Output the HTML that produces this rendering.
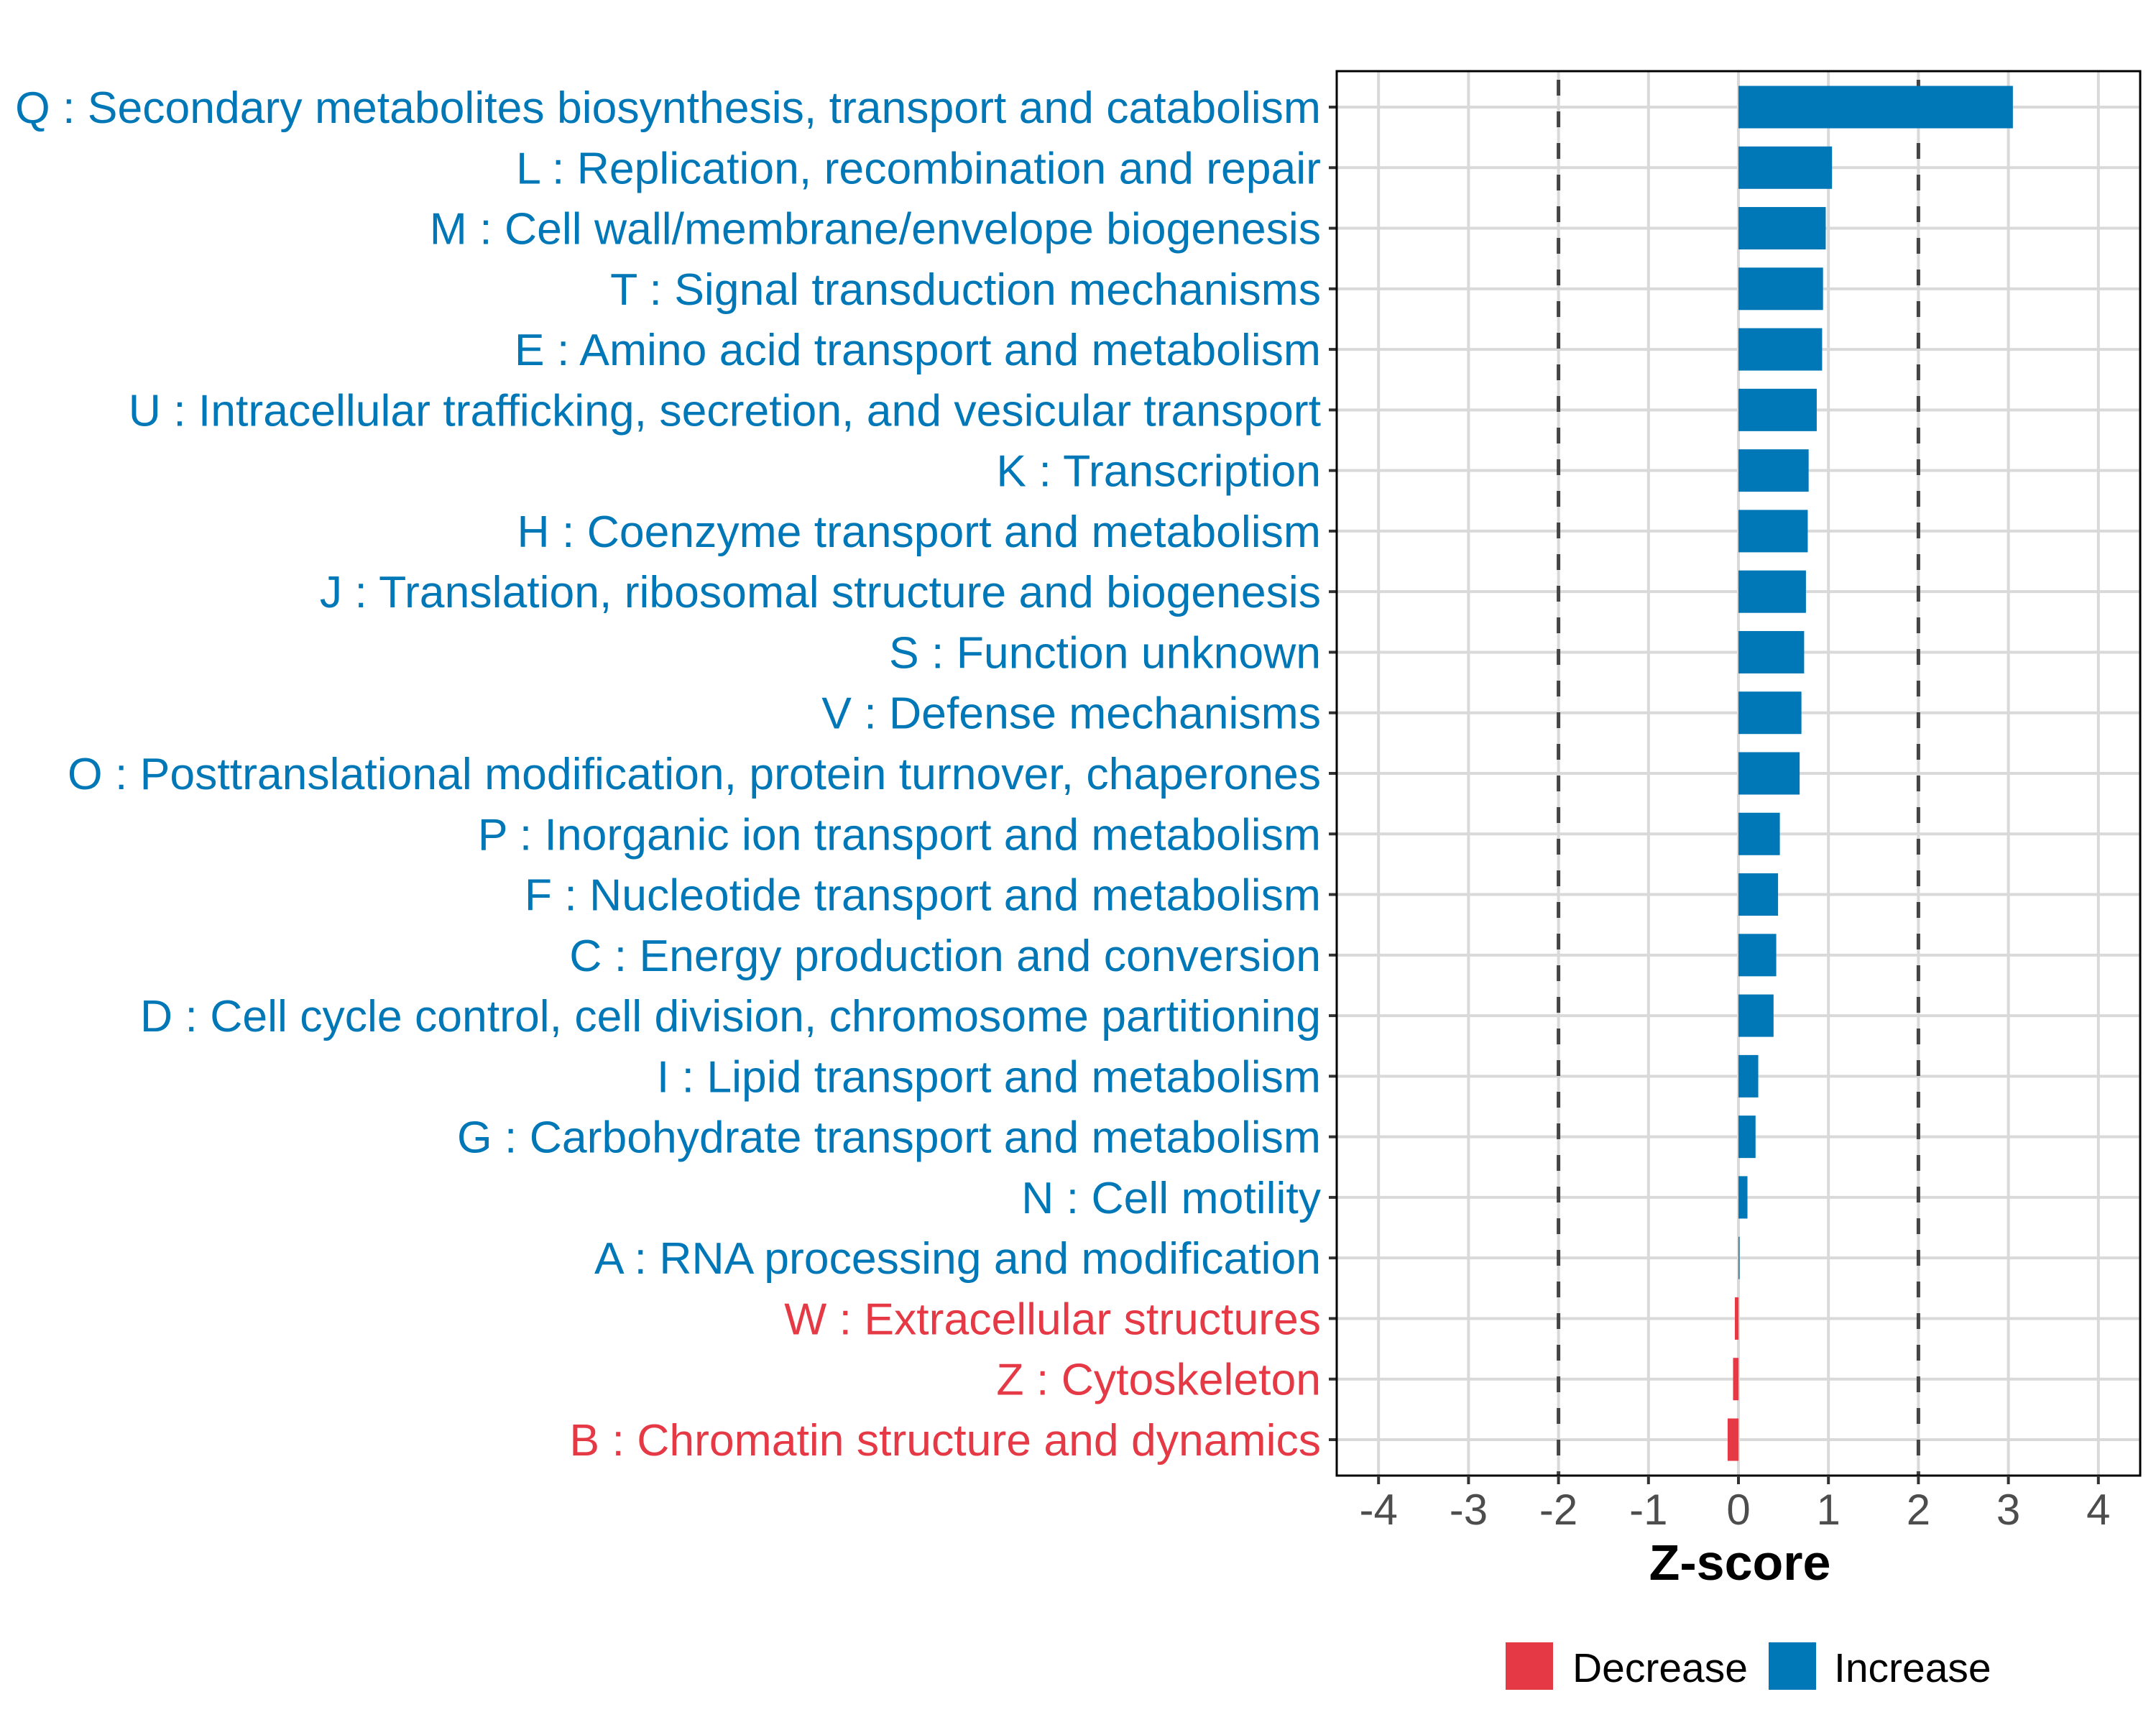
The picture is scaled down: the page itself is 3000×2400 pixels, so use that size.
<!DOCTYPE html>
<html><head><meta charset="utf-8"><style>
html,body{margin:0;padding:0;background:#fff}
svg{display:block}
text{font-family:"Liberation Sans",sans-serif}
</style></head><body>
<svg id="chart" width="3000" height="2400" viewBox="0 0 3000 2400" xmlns="http://www.w3.org/2000/svg">
<rect width="3000" height="2400" fill="#fff"/>
<g id="grid"></g><g id="bars"></g><g id="axes"></g>
</svg>
<script>
const categories = ["Q : Secondary metabolites biosynthesis, transport and catabolism","L : Replication, recombination and repair","M : Cell wall/membrane/envelope biogenesis","T : Signal transduction mechanisms","E : Amino acid transport and metabolism","U : Intracellular trafficking, secretion, and vesicular transport","K : Transcription","H : Coenzyme transport and metabolism","J : Translation, ribosomal structure and biogenesis","S : Function unknown","V : Defense mechanisms","O : Posttranslational modification, protein turnover, chaperones","P : Inorganic ion transport and metabolism","F : Nucleotide transport and metabolism","C : Energy production and conversion","D : Cell cycle control, cell division, chromosome partitioning","I : Lipid transport and metabolism","G : Carbohydrate transport and metabolism","N : Cell motility","A : RNA processing and modification","W : Extracellular structures","Z : Cytoskeleton","B : Chromatin structure and dynamics"];
const zscores = [3.05,1.04,0.97,0.94,0.93,0.87,0.78,0.77,0.75,0.73,0.70,0.68,0.46,0.44,0.42,0.39,0.22,0.19,0.10,0.01,-0.04,-0.06,-0.12];
const xTicks = [-4,-3,-2,-1,0,1,2,3,4];
const thresholds = [-2,2];
const legendLabels = ["Decrease","Increase"];

const NS="http://www.w3.org/2000/svg";
const L=1860,R=2978,T=99,B=2053;
const x0=2419,unit=125.2;
const X=v=>x0+v*unit;
const row0=149,step=(2003-149)/22;
const Y=i=>row0+i*step;
const BLUE="#0077B6",RED="#E63946";
function mk(tag,attrs,parent){const e=document.createElementNS(NS,tag);for(const k in attrs)e.setAttribute(k,attrs[k]);parent.appendChild(e);return e;}
const grid=document.getElementById('grid'),bars=document.getElementById('bars'),axes=document.getElementById('axes');

xTicks.forEach(t=>{
  const g=mk('line',{x1:X(t),x2:X(t),y1:T,y2:B,stroke:'#d9d9d9','stroke-width':4},grid);
  
  
});
categories.forEach((c,i)=>{
  const g=mk('line',{x1:L,x2:R,y1:Y(i),y2:Y(i),stroke:'#d9d9d9','stroke-width':4},grid);
  
  
});
thresholds.forEach(t=>{
  const d=mk('line',{x1:X(t),x2:X(t),y1:T,y2:B,stroke:'#444','stroke-width':5,'stroke-dasharray':'22 22','stroke-dashoffset':'-12'},grid);
  
  
});
const bh=step*0.7;
zscores.forEach((v,i)=>{
  const x1=Math.min(X(0),X(v)),w=Math.max(Math.abs(X(v)-X(0)),1.5);
  const b=mk('rect',{x:x1,y:Y(i)-bh/2,width:w,height:bh,fill:v<0?RED:BLUE},bars);
  
  
  const lab=mk('text',{x:1838,y:Y(i)+22,'text-anchor':'end','font-size':62.5,fill:v<0?RED:BLUE},axes);
  lab.textContent=categories[i];
  
  
  const tk=mk('line',{x1:L-11,x2:L,y1:Y(i),y2:Y(i),stroke:'#333','stroke-width':4},axes);
  
  
});
const frame=mk('rect',{x:L,y:T,width:R-L,height:B-T,fill:'none',stroke:'#000','stroke-width':3},axes);


xTicks.forEach(t=>{
  const tk=mk('line',{x1:X(t),x2:X(t),y1:B,y2:B+12,stroke:'#333','stroke-width':4},axes);
  
  
  const tl=mk('text',{x:X(t),y:2121,'text-anchor':'middle','font-size':60,fill:'#4d4d4d'},axes);
  tl.textContent=String(t);
  
  
});
const xt=mk('text',{x:2421,y:2198,'text-anchor':'middle','font-size':70,'font-weight':'bold',fill:'#000'},axes);
xt.textContent="Z-score";


const lx=[2095,2461],tx=[2188,2552],cols=[RED,BLUE];
legendLabels.forEach((l,i)=>{
  const k=mk('rect',{x:lx[i],y:2285,width:66,height:66,fill:cols[i]},axes);
  
  
  const t=mk('text',{x:tx[i],y:2340,'font-size':57,fill:'#000'},axes);
  t.textContent=l;
  
  
});
</script>
</body></html>
